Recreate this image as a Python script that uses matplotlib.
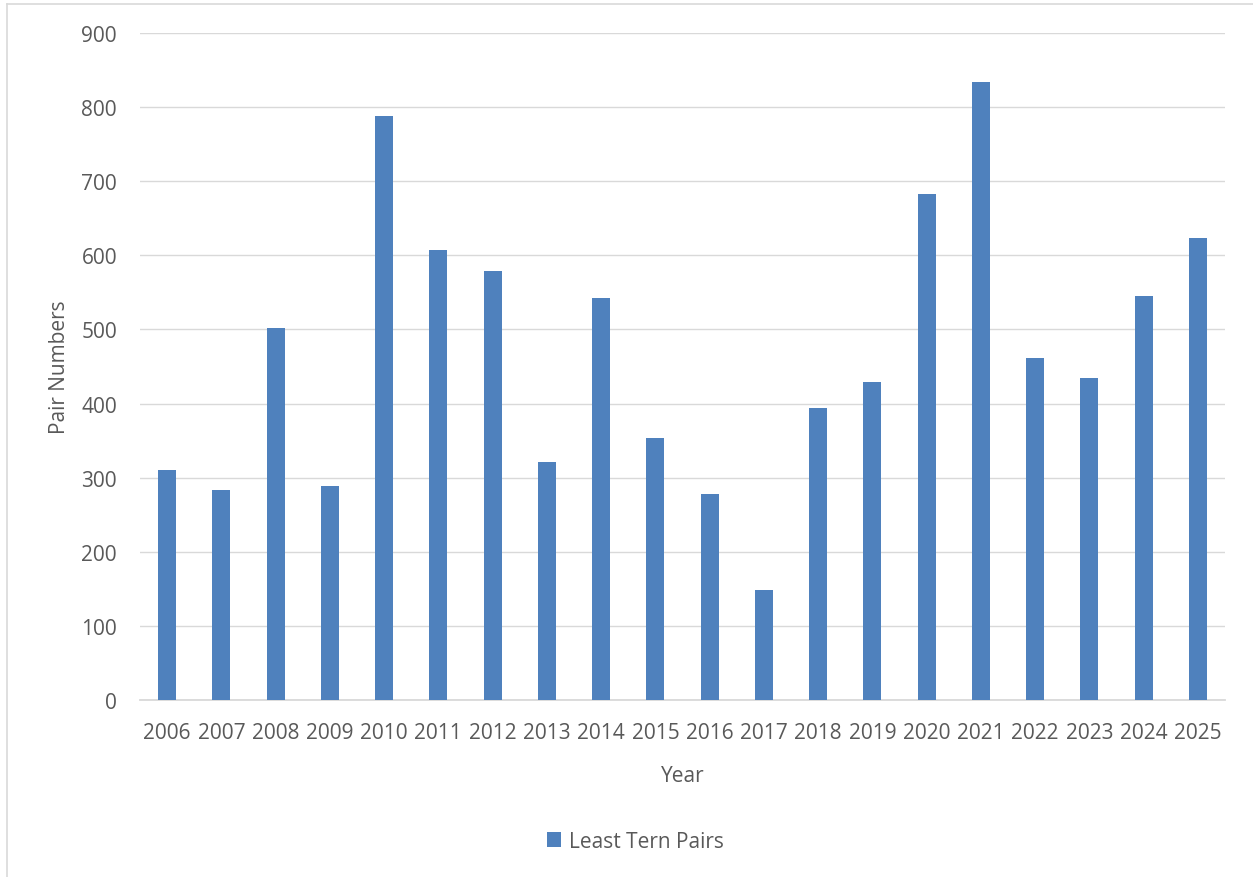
import matplotlib
matplotlib.use("Agg")
import matplotlib.pyplot as plt
from matplotlib.lines import Line2D

years = [str(y) for y in range(2006, 2026)]
pairs = [310, 283, 502, 289, 788, 607, 579, 321, 543, 354, 278, 148, 394, 429, 683, 834, 462, 435, 545, 624]
yticks = [0, 100, 200, 300, 400, 500, 600, 700, 800, 900]

plt.rcParams['font.family'] = ['Open Sans', 'DejaVu Sans']
fig = plt.figure(figsize=(12.53, 8.78), dpi=100)
# chart-area frame: only top and left edges are visible in the reference
fig.lines.append(Line2D([7 / 1253, 7 / 1253], [0, 1 - 5 / 878], transform=fig.transFigure,
                        color='#D9D9D9', linewidth=1.2))
fig.lines.append(Line2D([7 / 1253, 1], [1 - 5 / 878, 1 - 5 / 878], transform=fig.transFigure,
                        color='#D9D9D9', linewidth=1.2))
ax = fig.add_axes([0.1117, 0.2016, 0.866, 0.7597])
x = range(len(years))
ax.bar(x, pairs, width=0.33, color='#4F81BD', label='Least Tern Pairs', zorder=3)
ax.set_xlim(-0.5, len(years) - 0.5)
ax.set_ylim(0, 900)
ax.set_yticks(yticks)
ax.set_xticks(list(x))
ax.set_xticklabels(years)
ax.grid(axis='y', color='#D9D9D9', linewidth=1, zorder=0)
for s in ['top', 'right', 'left']:
    ax.spines[s].set_visible(False)
ax.spines['bottom'].set_color('#D9D9D9')
ax.spines['bottom'].set_linewidth(1.3)
ax.tick_params(axis='both', length=0, labelsize=15, colors='#595959')
ax.tick_params(axis='x', pad=15.5)
ax.tick_params(axis='y', pad=16.5)
ax.set_xlabel('Year', fontsize=15, color='#595959', labelpad=16)
ax.set_ylabel('Pair Numbers', fontsize=15, color='#595959', labelpad=8)
fig.legend(loc='center', bbox_to_anchor=(0.507, 0.041), frameon=False, fontsize=15,
           labelcolor='#595959', handlelength=0.7, handleheight=0.7, handletextpad=0.35)
fig.savefig('out.png', dpi=100)
